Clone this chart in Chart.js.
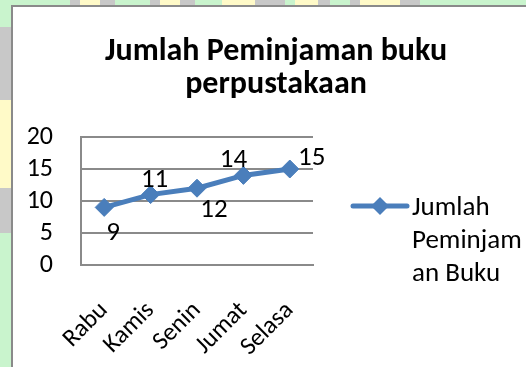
<!DOCTYPE html>
<html>
<head>
<meta charset="utf-8">
<script src="https://cdn.jsdelivr.net/npm/chart.js@4"></script>
<style>
  html, body { margin: 0; padding: 0; }
  body {
    width: 526px; height: 367px; overflow: hidden; position: relative;
    background: #c9f4cd;
  }
  #edgeTop {
    position: absolute; left: 0; top: 0; width: 526px; height: 6px;
    background: linear-gradient(to right,
      #c9f4cd 0 70px, #c8c8c8 70px 80px, #fffac8 80px 100px, #c8c8c8 100px 115px,
      #c9f4cd 115px 150px, #c8c8c8 150px 160px, #fffac8 160px 180px, #c8c8c8 180px 195px,
      #c9f4cd 195px 222px, #fffac8 222px 255px, #c8c8c8 255px 285px, #c9f4cd 285px 295px,
      #fffac8 295px 318px, #c8c8c8 318px 330px, #c9f4cd 330px 350px, #c8c8c8 350px 360px,
      #fffac8 360px 400px, #c8c8c8 400px 420px, #c9f4cd 420px);
  }
  #edgeLeft {
    position: absolute; left: 0; top: 0; width: 12px; height: 367px;
    background: linear-gradient(to bottom,
      #c9f4cd 0 27px, #c8c8c8 27px 100px, #fffac8 100px 188px, #c8c8c8 188px 233px, #c9f4cd 233px);
  }
  #box {
    position: absolute; left: 11px; top: 5px; width: 530px; height: 380px;
    background: #ffffff; border: 2px solid #8a8a8a; box-sizing: border-box;
  }
  #wrap { position: absolute; left: 0; top: 0; width: 526px; height: 367px; }
</style>
</head>
<body>
<div id="edgeTop"></div>
<div id="edgeLeft"></div>
<div id="box"></div>
<div id="wrap"><canvas id="chart"></canvas></div>
<script>
const hari = ['Rabu', 'Kamis', 'Senin', 'Jumat', 'Selasa'];
const jumlahPinjam = [9, 11, 12, 14, 15];
const judul = ['Jumlah Peminjaman buku', 'perpustakaan'];
const namaSeri = 'Jumlah Peminjaman Buku';
const legendBaris = ['Jumlah', 'Peminjam', 'an Buku'];

const biru = '#4a7ebb';
const fontUtama = "Carlito, Calibri, Lato, 'Open Sans', sans-serif";

// title drawn by hand so it centres on the whole box, not the plot
const judulAtas = {
    id: 'judulAtas',
    afterDraw(chart) {
        const ctx = chart.ctx;
        ctx.save();
        ctx.font = 'bold 32px ' + fontUtama;
        ctx.fillStyle = '#000';
        ctx.textAlign = 'center';
        ctx.textBaseline = 'alphabetic';
        judul.forEach((t, i) => ctx.fillText(t, 276, 60 + i * 33));
        ctx.restore();
    }
};

// value labels beside each marker (below / above / right)
const geserLabel = [[9, 26], [4, -14], [17, 22], [-10, -15], [22, -11]];
const labelNilai = {
    id: 'labelNilai',
    afterDatasetsDraw(chart) {
        const ctx = chart.ctx;
        const meta = chart.getDatasetMeta(0);
        ctx.save();
        ctx.font = '27px ' + fontUtama;
        ctx.fillStyle = '#000';
        ctx.textAlign = 'center';
        ctx.textBaseline = 'middle';
        meta.data.forEach((pt, i) => {
            const [dx, dy] = geserLabel[i];
            ctx.fillText(String(jumlahPinjam[i]), pt.x + dx, pt.y + dy);
        });
        ctx.restore();
    }
};

// legend on the right, wrapped over three lines
const legendKanan = {
    id: 'legendKanan',
    afterDraw(chart) {
        const ctx = chart.ctx;
        const x0 = 353, x1 = 407, y = 206;
        ctx.save();
        ctx.strokeStyle = biru;
        ctx.lineWidth = 5;
        ctx.lineCap = 'round';
        ctx.beginPath();
        ctx.moveTo(x0, y);
        ctx.lineTo(x1, y);
        ctx.stroke();
        const cx = (x0 + x1) / 2, r = 9;
        ctx.fillStyle = biru;
        ctx.beginPath();
        ctx.moveTo(cx, y - r);
        ctx.lineTo(cx + r, y);
        ctx.lineTo(cx, y + r);
        ctx.lineTo(cx - r, y);
        ctx.closePath();
        ctx.fill();
        ctx.font = '27px ' + fontUtama;
        ctx.fillStyle = '#000';
        ctx.textAlign = 'left';
        ctx.textBaseline = 'middle';
        legendBaris.forEach((t, i) => ctx.fillText(t, 412, y + 2 + i * 33));
        ctx.restore();
    }
};

new Chart(document.getElementById('chart'), {
    type: 'line',
    data: {
        labels: hari,
        datasets: [{
            label: namaSeri,
            data: jumlahPinjam,
            borderColor: biru,
            backgroundColor: biru,
            borderWidth: 5,
            pointStyle: 'rectRot',
            pointRadius: 9,
            pointHoverRadius: 9,
            pointBackgroundColor: biru,
            pointBorderColor: biru,
            pointBorderWidth: 1,
            tension: 0,
            fill: false
        }]
    },
    options: {
        responsive: true,
        maintainAspectRatio: false,
        animation: false,
        layout: { padding: { left: 0, right: 213, top: 137, bottom: 0 } },
        plugins: {
            legend: { display: false },
            tooltip: { enabled: false },
            title: { display: false }
        },
        scales: {
            x: {
                offset: true,
                afterFit(scale) { scale.height = 102; },
                grid: { display: false, drawTicks: false },
                border: { display: true, color: '#8a8a8a', width: 2 },
                ticks: {
                    autoSkip: false,
                    color: '#000',
                    font: { family: fontUtama, size: 25 },
                    minRotation: 45,
                    maxRotation: 45,
                    padding: 31
                }
            },
            y: {
                min: 0,
                max: 20,
                afterFit(scale) { scale.width = 81; },
                grid: { color: '#8a8a8a', lineWidth: 2, drawTicks: false },
                border: { display: true, color: '#8a8a8a', width: 2 },
                ticks: {
                    autoSkip: false,
                    stepSize: 5,
                    color: '#000',
                    font: { family: fontUtama, size: 26 },
                    padding: 28
                }
            }
        }
    },
    plugins: [labelNilai, legendKanan, judulAtas]
});
</script>
</body>
</html>
